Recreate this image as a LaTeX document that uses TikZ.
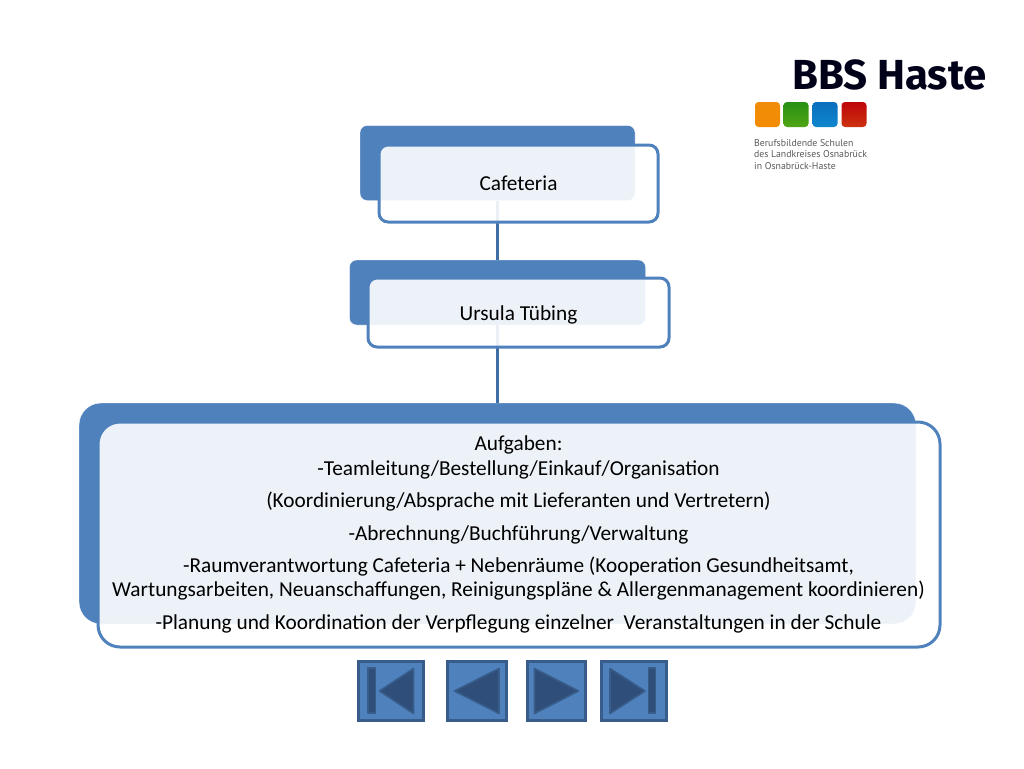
\documentclass[tikz,border=0pt]{standalone}
\usepackage{fontspec}
\setmainfont{Carlito}
\newfontfamily\logofont{Fira Sans}
\newfontfamily\smalllogofont{PT Sans}
\usetikzlibrary{calc}

\definecolor{boxblue}{HTML}{4F81BD}
\definecolor{lineblue}{HTML}{3F6EA6}
\definecolor{navedge}{HTML}{385D8A}
\definecolor{navdark}{HTML}{2F4F7A}

\tikzset{
  backbox/.style={draw=white,fill=boxblue,rounded corners=7pt},
  frontbox/.style={draw=boxblue,line width=3pt,fill=white,fill opacity=0.9,text opacity=1,rounded corners=9pt,
    font=\fontsize{21.3}{24.5}\selectfont,align=center,inner sep=0pt,text height=17,text depth=3},
  navbox/.style={draw=navedge,line width=3pt,fill=boxblue},
  navicon/.style={draw=navedge,line width=1.6pt,fill=navdark,line join=round},
  tile/.style={rounded corners=3.5pt,minimum width=25,minimum height=25,inner sep=0pt},
  link/.style={draw=lineblue,line width=3pt}
}

\begin{document}
\begin{tikzpicture}[x=1pt,y=-1pt]

\useasboundingbox (0,0) rectangle (1024,768);

\node (cafeteriaback) [backbox,minimum width=275,minimum height=75] at (497.5,163) {};
\node (personback) [backbox,minimum width=296,minimum height=65] at (497.5,292.5) {};
\node (tasksback) [backbox,rounded corners=22pt,minimum width=837,minimum height=221] at (497.5,513.5) {};

\draw[link] (cafeteriaback.south) -- (personback.north);
\draw[link] (personback.south) -- (tasksback.north);

\node (cafeteria) [frontbox,minimum width=279,minimum height=77] at (518.5,183.5) {Cafeteria};
\node (person) [frontbox,text height=18,text depth=2,minimum width=301,minimum height=69] at (518.5,312.5) {Ursula Tübing};
\node (tasks) [frontbox,text height=,text depth=,rounded corners=22pt,minimum width=842,minimum height=225] at (519,534.5) {};
\node (taskstext) [font=\fontsize{21.3}{24.5}\selectfont,align=center,inner sep=0pt] at (518.5,534.5) {Aufgaben:\\
-Teamleitung/Bestellung/Einkauf/Organisation\\[7.8pt]
(Koordinierung/Absprache mit Lieferanten und Vertretern)\\[7.8pt]
-Abrechnung/Buchführung/Verwaltung\\[7.8pt]
-Raumverantwortung Cafeteria + Nebenräume (Kooperation Gesundheitsamt,\\
Wartungsarbeiten, Neuanschaffungen, Reinigungspläne \& Allergenmanagement koordinieren)\\[7.8pt]
-Planung und Koordination der Verpflegung einzelner~ Veranstaltungen in der Schule};

% buttons
\node (first) [navbox,minimum width=65,minimum height=59] at (391,691) {};
\node (previous) [navbox,minimum width=59,minimum height=59] at (477,691) {};
\node (next) [navbox,minimum width=58,minimum height=59] at (556.5,691) {};
\node (last) [navbox,minimum width=65,minimum height=59] at (633.5,691) {};

\draw[navicon] (368,668) rectangle (375.5,713);
\draw[navicon] (379.5,691) -- (413.5,668.5) -- (413.5,713.5) -- cycle;
\draw[navicon] (454.5,691) -- (499,668.5) -- (499,713.5) -- cycle;
\draw[navicon] (578.5,691) -- (534.5,668.5) -- (534.5,713.5) -- cycle;
\draw[navicon] (645,691) -- (610,668.5) -- (610,713.5) -- cycle;
\draw[navicon] (648.5,668) rectangle (655.5,713);

% logo
\node (logoname) [font=\logofont\bfseries\fontsize{42}{42}\selectfont,inner sep=0pt,text=black!90!blue] at (889.5,75) {BBS Haste};
\node (orange) [tile,top color={rgb,255:red,240;green,140;blue,10},bottom color={rgb,255:red,244;green,140;blue,0}] at (767.5,114.5) {};
\node (green) [tile,top color={rgb,255:red,40;green,145;blue,20},bottom color={rgb,255:red,80;green,165;blue,20}] at (796,114.5) {};
\node (blue) [tile,top color={rgb,255:red,10;green,110;blue,190},bottom color={rgb,255:red,15;green,135;blue,205}] at (825,114.5) {};
\node (red) [tile,top color={rgb,255:red,190;green,5;blue,10},bottom color={rgb,255:red,205;green,50;blue,15}] at (854,114.5) {};
\node (logotext) [below right,inner sep=0pt,align=left,text=black!65,font=\smalllogofont\fontsize{9.8}{11.7}\selectfont] at (754,139) {Berufsbildende Schulen\\des Landkreises Osnabrück\\in Osnabrück-Haste};

\end{tikzpicture}
\end{document}
